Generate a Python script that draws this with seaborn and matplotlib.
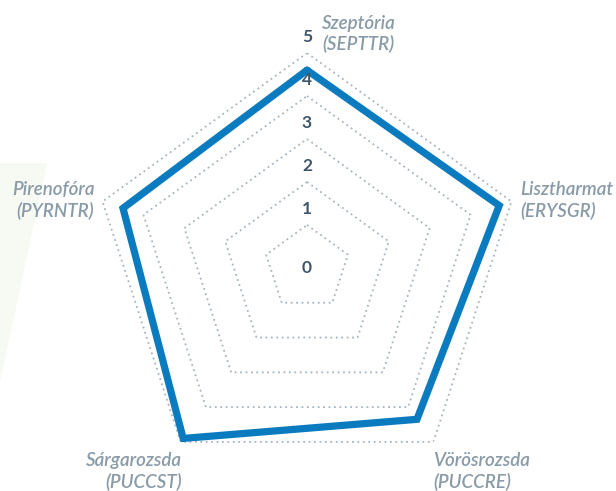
import numpy as np
import pandas as pd
import seaborn as sns
import matplotlib.pyplot as plt
from matplotlib.patches import Polygon

# Data
categories = ["Szeptória\n(SEPTTR)", "Lisztharmat\n(ERYSGR)", "Vörösrozsda\n(PUCCRE)",
              "Sárgarozsda\n(PUCCST)", "Pirenofóra\n(PYRNTR)"]
values = [4.6, 4.7, 4.35, 4.9, 4.5]
levels = [1, 2, 3, 4, 5]
tick_labels = ["0", "1", "2", "3", "4", "5"]

sns.set_style("white")
plt.rcParams['font.family'] = ['Lato', 'DejaVu Sans']

line_color = "#0b7bc0"
grid_color = "#a7b4bf"
label_color = "#8a9ba8"
tick_color = "#3f566a"

n = len(categories)
angles = np.linspace(0, 2 * np.pi, n, endpoint=False)
theta_closed = np.append(angles, angles[0] + 2 * np.pi)

fig = plt.figure(figsize=(6.16, 4.91), dpi=100)

# faint green decoration on the left
fig.patches.append(Polygon([[0, 1 - 163 / 491], [47 / 616, 1 - 163 / 491], [0, 1 - 382 / 491]],
                           closed=True, transform=fig.transFigure,
                           facecolor="#f6faf2", edgecolor="none", zorder=-5))

ax = fig.add_axes([0.1494, 0.0163, 0.698, 0.8758], projection="polar")
ax.set_zorder(2)
ax.set_theta_zero_location("N")
ax.set_theta_direction(-1)
ax.set_ylim(0, 5)
ax.set_facecolor("none")
ax.grid(False)
ax.spines["polar"].set_visible(False)
ax.set_xticks([])
ax.set_yticks([])

# pentagon grid
for lv in levels:
    ax.plot(theta_closed, [lv] * (n + 1), color=grid_color, lw=1.3,
            linestyle=(0, (1, 2)), zorder=1)

# data series
df = pd.DataFrame({"theta": theta_closed, "value": values + values[:1]})
sns.lineplot(data=df, x="theta", y="value", sort=False, color=line_color,
             lw=5.2, ax=ax, zorder=3)
for ln in ax.lines[-1:]:
    ln.set_solid_joinstyle("miter")
ax.set_xlabel("")
ax.set_ylabel("")

# radial tick labels
for i, t in enumerate(tick_labels):
    off = 0 if i == 0 else 11.5
    ax.annotate(t, xy=(0, i), xytext=(0, off), textcoords="offset points",
                ha="center", va="center", fontsize=12.5, fontweight="bold",
                color=tick_color, zorder=4)

# category labels
label_offsets = [(11, 14, "left"), (6, 1, "left"), (0, -21, "left"),
                 (1, -21, "right"), (-6, 1, "right")]
for ang, lab, (dx, dy, ha) in zip(angles, categories, label_offsets):
    ax.annotate(lab, xy=(ang, 5), xytext=(dx, dy), textcoords="offset points",
                ha=ha, va="center", multialignment=ha, fontsize=13.5,
                style="italic", fontweight="semibold", color=label_color,
                linespacing=1.2, annotation_clip=False)

fig.savefig("out.png", dpi=100)
